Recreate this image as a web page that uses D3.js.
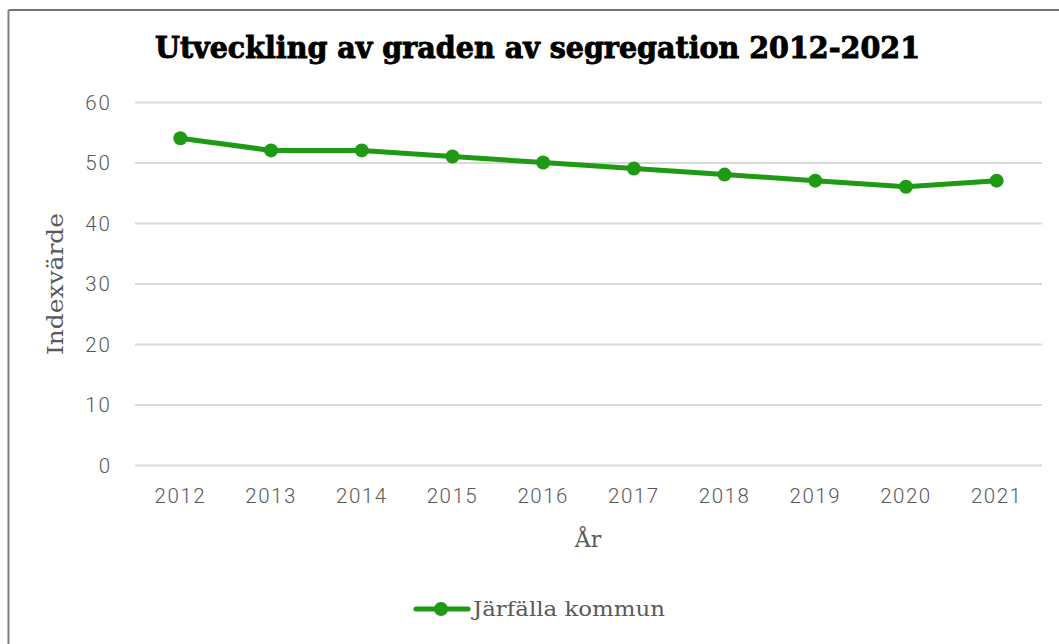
<!DOCTYPE html>
<html><head><meta charset="utf-8">
<script src="https://cdn.jsdelivr.net/npm/d3@7"></script>
<style>html,body{margin:0;padding:0;background:#fff;}svg{display:block;}</style>
</head><body>
<script>
const years = ["2012","2013","2014","2015","2016","2017","2018","2019","2020","2021"];
const values = [54, 52, 52, 51, 50, 49, 48, 47, 46, 47];
const yTicks = [0, 10, 20, 30, 40, 50, 60];
const seriesName = "Järfälla kommun";
const title = "Utveckling av graden av segregation 2012-2021";
const xTitle = "År";
const yTitle = "Indexvärde";

const W = 1059, H = 644;
const plotLeft = 135, plotRight = 1042, plotTop = 102, plotBottom = 465;
const green = "#1f9a14", grey = "#595959";
const tickFont = "Roboto, 'Noto Sans', sans-serif";
const serifFont = "'DejaVu Serif', serif";

const svg = d3.select("body").append("svg").attr("width", W).attr("height", H);
svg.append("rect").attr("width", W).attr("height", H).attr("fill", "#fff");
// frame
svg.append("line").attr("x1", 8.5).attr("x2", W).attr("y1", 10).attr("y2", 10).attr("stroke", "#444").attr("stroke-width", 1.5);
svg.append("line").attr("x1", 8.5).attr("x2", 8.5).attr("y1", 10).attr("y2", H).attr("stroke", "#808080").attr("stroke-width", 2);

const x = d3.scaleBand().domain(years).range([plotLeft, plotRight]);
const y = d3.scaleLinear().domain([0, 60]).range([plotBottom, plotTop]);

// grid
const yAxis = d3.axisLeft(y).tickValues(yTicks).tickSize(-(plotRight - plotLeft)).tickPadding(23);
const gy = svg.append("g").attr("transform", `translate(${plotLeft},0)`).call(yAxis);
gy.select(".domain").remove();
gy.selectAll(".tick line").attr("stroke", "#d9d9d9").attr("stroke-width", 2);
gy.selectAll(".tick text").attr("fill", grey).attr("font-family", tickFont).attr("font-weight", 300)
  .attr("font-size", 20.5).attr("dy", "0.36em").style("letter-spacing", "2px");

const xAxis = d3.axisBottom(x).tickSize(0).tickPadding(23);
const gx = svg.append("g").attr("transform", `translate(0,${plotBottom})`).call(xAxis);
gx.select(".domain").remove();
gx.selectAll(".tick text").attr("fill", grey).attr("font-family", tickFont).attr("font-weight", 300)
  .attr("font-size", 20.5).style("letter-spacing", "1.5px");

// line
const cx = d => x(d) + x.bandwidth() / 2;
const line = d3.line().x((d, i) => cx(years[i])).y(d => y(d));
svg.append("path").datum(values).attr("d", line).attr("fill", "none")
  .attr("stroke", green).attr("stroke-width", 5).attr("stroke-linejoin", "round");
svg.selectAll("circle.pt").data(values).enter().append("circle").attr("class", "pt")
  .attr("cx", (d, i) => cx(years[i])).attr("cy", d => y(d)).attr("r", 7).attr("fill", green);

// title
svg.append("text").attr("x", 155).attr("y", 58).attr("font-family", serifFont).attr("font-weight", "bold")
  .attr("font-size", 29).attr("textLength", 765).attr("lengthAdjust", "spacingAndGlyphs")
  .attr("fill", "#000").attr("stroke", "#000").attr("stroke-width", 0.9).text(title);

// axis titles
svg.append("text").attr("x", 588).attr("y", 547).attr("text-anchor", "middle").attr("font-family", serifFont)
  .attr("font-size", 22).attr("fill", grey).text(xTitle);
svg.append("text").attr("transform", "translate(63,284) rotate(-90)").attr("text-anchor", "middle")
  .attr("font-family", serifFont).attr("font-size", 23).attr("textLength", 142).attr("lengthAdjust", "spacingAndGlyphs")
  .attr("fill", grey).text(yTitle);

// legend
svg.append("line").attr("x1", 416).attr("x2", 468).attr("y1", 609).attr("y2", 609)
  .attr("stroke", green).attr("stroke-width", 5).attr("stroke-linecap", "round");
svg.append("circle").attr("cx", 441).attr("cy", 609).attr("r", 7).attr("fill", green);
svg.append("text").attr("x", 473).attr("y", 616).attr("font-family", serifFont).attr("font-size", 21)
  .attr("textLength", 192).attr("lengthAdjust", "spacingAndGlyphs")
  .attr("fill", grey).text(seriesName);
</script>
</body></html>
